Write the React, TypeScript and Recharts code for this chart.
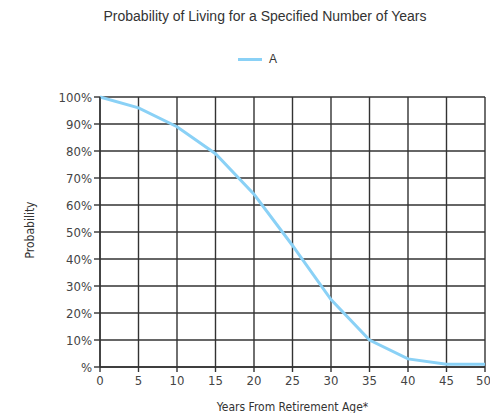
import React from 'react'
import { LineChart, Line, XAxis, YAxis, CartesianGrid } from 'recharts'

// years from retirement age vs probability of still living (%)
const years = [0, 5, 10, 15, 20, 25, 30, 35, 40, 45, 50]
const probA = [100, 96, 89, 79, 64, 45, 25, 10, 3, 1, 1]
const xTicks = [0, 5, 10, 15, 20, 25, 30, 35, 40, 45, 50]
const yTicks = [0, 10, 20, 30, 40, 50, 60, 70, 80, 90, 100]

const data = years.map((y, i) => ({ year: y, A: probA[i] }))

const LINE = '#8ad1f6'
const GRID = '#333'
const TICK_FONT = '"Liberation Sans Narrow", "DejaVu Sans Condensed", Arial, sans-serif'

export default function App() {
  return (
    <div style={{ position: 'absolute', left: 0, top: 0, width: 490, height: 413, background: '#fff' }}>
      <div
        style={{
          position: 'absolute', left: 0, top: 8, width: 530, textAlign: 'center',
          font: '14px "Liberation Sans", Arial, sans-serif', color: '#333',
        }}
      >
        Probability of Living for a Specified Number of Years
      </div>
      <div style={{ position: 'absolute', left: 238, top: 52, display: 'flex', alignItems: 'center' }}>
        <div style={{ width: 24, height: 3, background: LINE, marginRight: 7 }} />
        <span style={{ font: '12px "Liberation Sans", Arial, sans-serif', color: '#333' }}>A</span>
      </div>
      <LineChart
        width={490}
        height={413}
        data={data}
        margin={{ top: 97, right: 5, bottom: 2, left: 0 }}
      >
        <CartesianGrid stroke={GRID} strokeWidth={1.4} />
        <XAxis
          dataKey="year"
          type="number"
          domain={[0, 50]}
          ticks={xTicks}
          height={44}
          tickSize={5}
          tickMargin={4}
          stroke={GRID}
          strokeWidth={1.4}
          tick={{ fill: '#444', fontSize: 13, fontFamily: TICK_FONT }}
          label={{
            value: 'Years From Retirement Age*',
            position: 'insideBottom',
            offset: 0,
            fill: '#333',
            fontSize: 12,
            fontFamily: TICK_FONT,
          }}
        />
        <YAxis
          type="number"
          domain={[0, 100]}
          ticks={yTicks}
          width={100}
          tickSize={6}
          tickMargin={2}
          stroke={GRID}
          strokeWidth={1.4}
          tickFormatter={(v: number) => (v === 0 ? '%' : `${v}%`)}
          tick={{ fill: '#444', fontSize: 13, fontFamily: TICK_FONT }}
          label={{
            content: () => (
              <text
                x={30}
                y={230}
                transform="rotate(-90 30 230)"
                textAnchor="middle"
                dominantBaseline="central"
                fill="#333"
                fontSize={12}
                fontFamily={TICK_FONT}
              >
                Probability
              </text>
            ),
          }}
        />
        <Line
          dataKey="A"
          type="linear"
          stroke={LINE}
          strokeWidth={3}
          dot={false}
          isAnimationActive={false}
        />
      </LineChart>
    </div>
  )
}
